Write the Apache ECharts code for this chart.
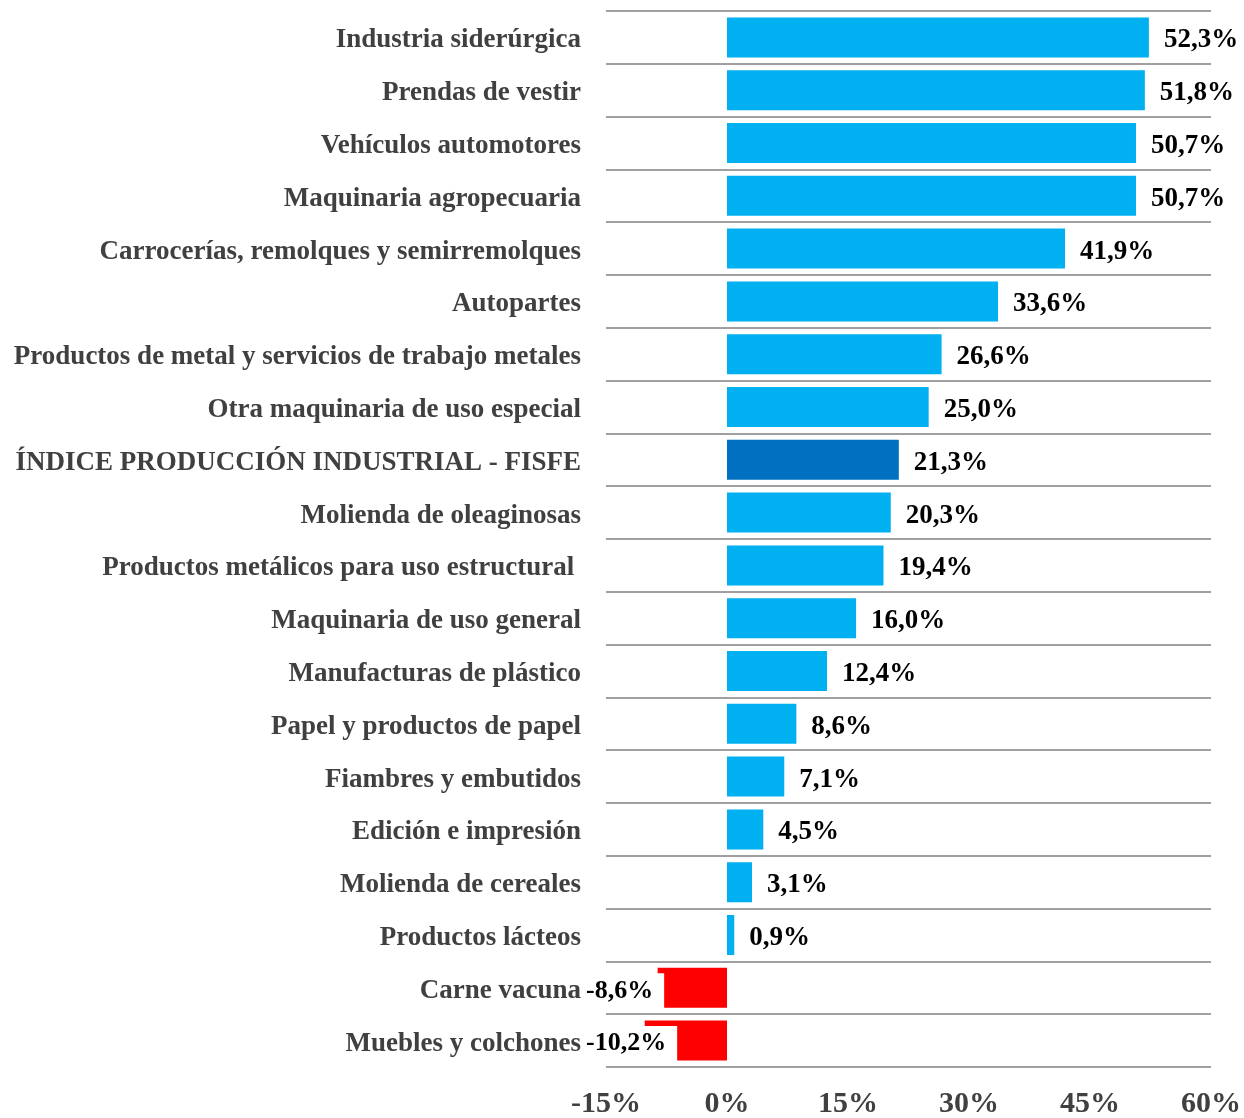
<!DOCTYPE html>
<html>
<head>
<meta charset="utf-8">
<script src="https://cdn.jsdelivr.net/npm/echarts@6/dist/echarts.min.js"></script>
<style>
html,body{margin:0;padding:0;background:#fff;}
#chart{width:1244px;height:1118px;}
</style>
</head>
<body>
<div id="chart"></div>
<script>
const categories = [
  "Industria siderúrgica",
  "Prendas de vestir",
  "Vehículos automotores",
  "Maquinaria agropecuaria",
  "Carrocerías, remolques y semirremolques",
  "Autopartes",
  "Productos de metal y servicios de trabajo metales",
  "Otra maquinaria de uso especial",
  "ÍNDICE PRODUCCIÓN INDUSTRIAL - FISFE",
  "Molienda de oleaginosas",
  "Productos metálicos para uso estructural ",
  "Maquinaria de uso general",
  "Manufacturas de plástico",
  "Papel y productos de papel",
  "Fiambres y embutidos",
  "Edición e impresión",
  "Molienda de cereales",
  "Productos lácteos",
  "Carne vacuna",
  "Muebles y colchones"
];
const values = [52.3, 51.8, 50.7, 50.7, 41.9, 33.6, 26.6, 25.0, 21.3, 20.3, 19.4, 16.0, 12.4, 8.6, 7.1, 4.5, 3.1, 0.9, -8.6, -10.2];
const highlightCategory = "ÍNDICE PRODUCCIÓN INDUSTRIAL - FISFE";
const xTicks = [-15, 0, 15, 30, 45, 60];

const fmt = v => v.toFixed(1).replace('.', ',') + '%';
const font = '"Liberation Serif","Times New Roman",serif';
const negLabelStartX = 586;

function buildData(chart) {
  return values.map((v, i) => {
    const item = { value: v };
    if (v < 0) {
      let offX = 0;
      if (chart) {
        const barLeft = chart.convertToPixel({ xAxisIndex: 0 }, v);
        offX = negLabelStartX - barLeft - 2;
      }
      item.label = {
        position: 'left',
        distance: 0,
        align: 'left',
        offset: [offX, 3],
        fontSize: 26,
        backgroundColor: '#ffffff',
        padding: [5, 11, 4, 2]
      };
    }
    return item;
  });
}

const chart = echarts.init(document.getElementById('chart'), null, { renderer: 'canvas' });
chart.setOption({
  animation: false,
  grid: { left: 606, right: 33, top: 11, bottom: 51, containLabel: false, outerBoundsMode: 'none' },
  xAxis: {
    type: 'value',
    min: xTicks[0],
    max: xTicks[xTicks.length - 1],
    interval: 15,
    axisLine: { show: false },
    axisTick: { show: false },
    splitLine: { show: false },
    axisLabel: {
      formatter: v => v + '%',
      fontFamily: font,
      fontWeight: 'bold',
      fontSize: 30,
      color: '#404040',
      margin: 22
    }
  },
  yAxis: {
    type: 'category',
    data: categories,
    inverse: true,
    axisLine: { show: false },
    axisTick: { show: false },
    splitLine: { show: true, interval: 0, lineStyle: { color: '#a0a0a0', width: 2 } },
    axisLabel: {
      interval: 0,
      fontFamily: font,
      fontWeight: 'bold',
      fontSize: 27,
      color: '#404040',
      margin: 25,
      verticalAlign: 'top',
      lineHeight: 6
    }
  },
  series: [{
    type: 'bar',
    data: buildData(null),
    barWidth: 40,
    itemStyle: {
      color: p => p.value < 0 ? '#FF0000' : (p.name === highlightCategory ? '#0070C0' : '#00B0F0')
    },
    label: {
      show: true,
      position: 'right',
      distance: 15,
      offset: [0, 3],
      formatter: p => fmt(p.value),
      fontFamily: font,
      fontWeight: 'bold',
      fontSize: 27,
      color: '#000000'
    }
  }]
});
chart.setOption({ series: [{ data: buildData(chart) }] });
</script>
</body>
</html>
